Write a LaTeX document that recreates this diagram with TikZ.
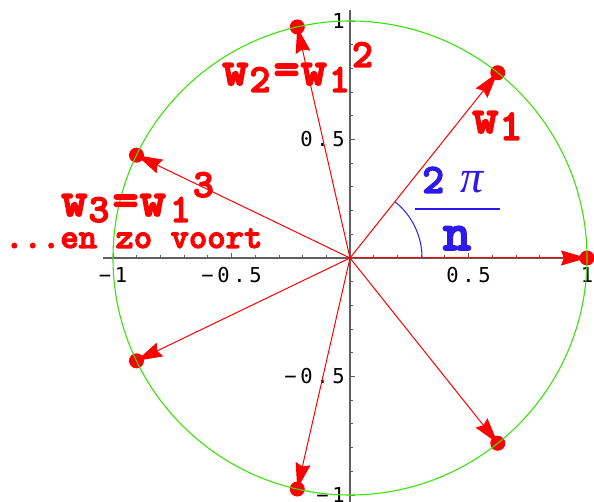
\documentclass[tikz,border=0pt]{standalone}
\usepackage{fontspec}
\usepackage{graphicx}
\usetikzlibrary{arrows.meta}
\newfontfamily\tickf{DejaVu Sans Mono}[LetterSpace=18]
\newfontfamily\serf{Liberation Serif}
\newfontfamily\ttb{lmmonolt10-bold}[Extension=.otf, FakeBold=3]
\definecolor{vred}{RGB}{255,0,0}
\definecolor{vgreen}{RGB}{60,225,10}
\definecolor{vblue}{RGB}{45,25,235}
\definecolor{axgray}{RGB}{95,95,95}
\begin{document}
\begin{tikzpicture}[x=237pt,y=237pt,
  vec/.style={draw=vred, line width=1pt, -{Stealth[length=26pt,width=15pt,inset=3pt]}},
  dot/.style={circle, fill=vred, inner sep=0pt, minimum size=15pt},
  ticklab/.style={font=\fontsize{20.5}{20.5}\selectfont\tickf, text=black, inner sep=0pt},
  redlab/.style={font=\ttb, text=vred, inner sep=0pt, anchor=base west},
  bluelab/.style={text=vblue, inner sep=0pt, anchor=base west},
  axisline/.style={draw=axgray, line width=1.3pt},
  tickline/.style={draw=axgray, line width=0.8pt}]
\useasboundingbox (-350pt,-244pt) rectangle (244pt,258pt);
% axes
\coordinate (xa) at (-1.042,0);
\coordinate (xb) at (1.04,0);
\coordinate (ya) at (0,1.046);
\coordinate (yb) at (0,-1.04);
\draw[axisline] (xa) -- (xb);
\draw[axisline] (ya) -- (yb);
\foreach \i in {-10,...,-1,1,2,...,10}{
  \pgfmathsetmacro\tl{ifthenelse(mod(\i,5)==0,4.5,2.5)}
  \draw[tickline] (\i/10,0) -- ++(0,\tl pt);
  \draw[tickline] (0,\i/10) -- ++(\tl pt,0);
}
% tick labels
\node[ticklab, anchor=north] (tx1) at (-1,-9.5pt) {−1};
\node[ticklab, anchor=north] (tx2) at (-0.5,-9.5pt) {−0.5};
\node[ticklab, anchor=north] (tx3) at (0.5,-9.5pt) {0.5};
\node[ticklab, anchor=north] (tx4) at (1,-9.5pt) {1};
\node[ticklab, anchor=east] (ty1) at (-5pt,1) {1};
\node[ticklab, anchor=east] (ty2) at (-5pt,0.5) {0.5};
\node[ticklab, anchor=east] (ty3) at (-5pt,-0.5) {−0.5};
\node[ticklab, anchor=east] (ty4) at (-5pt,-1) {−1};
% vectors
\coordinate (O) at (0,0);
\foreach \k in {0,...,6} \coordinate (p\k) at ({\k*360/7}:1);
\foreach \k in {0,...,6} \draw[vec] (O) -- (p\k);
\foreach \k in {0,...,6} \node[dot] (d\k) at (p\k) {};
% circle
\draw[vgreen, line width=1.1pt] (O) circle[radius=1];
% angle
\draw[vblue, line width=1pt] (0.304,0) arc[start angle=0, end angle={360/7}, radius=0.304];
% fraction
\node[bluelab, font=\ttb\fontsize{42}{42}\selectfont] (two) at (72pt,65pt) {2};
\node[bluelab, font=\serf\itshape\fontsize{46}{46}\selectfont] (pi) at (110pt,65pt) {π};
\node[text=vblue, inner sep=0pt, anchor=base, font=\ttb\fontsize{54}{54}\selectfont] (nn) at (107pt,8pt) {n};
\coordinate (fa) at (65pt,49pt);
\coordinate (fb) at (150pt,49pt);
\draw[vblue, line width=2pt] (fa) -- (fb);
% red labels
\node[redlab] (lw1) at (122pt,125pt) {\fontsize{50}{50}\selectfont w\kern1pt\raisebox{-7pt}{\fontsize{44}{44}\selectfont 1}};
\node[redlab] (lw2) at (-128pt,173pt) {\fontsize{50}{50}\selectfont w\kern1pt\raisebox{-7pt}{\fontsize{40}{40}\selectfont 2}\kern3pt=\kern1pt w\kern2pt\raisebox{-7pt}{\fontsize{40}{40}\selectfont 1}\kern2pt\raisebox{18pt}{\fontsize{40}{40}\selectfont 2}};
\node[redlab] (lw3) at (-289pt,42pt) {\fontsize{50}{50}\selectfont w\kern1pt\raisebox{-6pt}{\fontsize{40}{40}\selectfont 3}\kern3pt=\kern1pt w\kern4pt\raisebox{-6pt}{\fontsize{40}{40}\selectfont 1}\kern2pt\raisebox{19pt}{\fontsize{40}{40}\selectfont 3}};
\node[redlab] (enzo) at (-345pt,10pt) {\fontsize{35}{35}\selectfont ...en zo voort};
\end{tikzpicture}
\end{document}
